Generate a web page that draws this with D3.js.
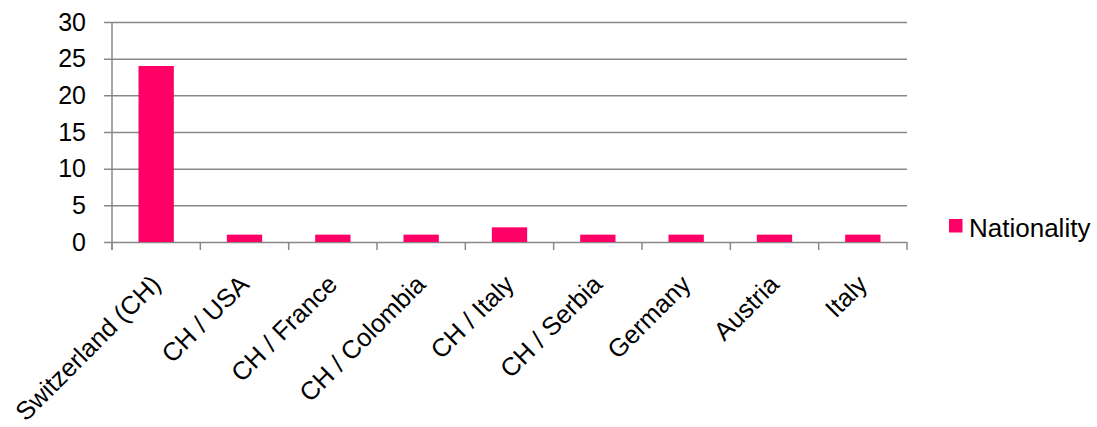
<!DOCTYPE html>
<html>
<head>
<meta charset="utf-8">
<script src="https://cdn.jsdelivr.net/npm/d3@7"></script>
<style>
  html, body { margin: 0; padding: 0; background: #fff; }
  svg { display: block; font-family: "Liberation Sans", Arial, sans-serif; }
</style>
</head>
<body>
<svg id="chart" width="1097" height="427"></svg>
<script>
// Nationality counts per category
const categories = ["Switzerland (CH)", "CH / USA", "CH / France", "CH / Colombia", "CH / Italy", "CH / Serbia", "Germany", "Austria", "Italy"];
const values = [24, 1, 1, 1, 2, 1, 1, 1, 1];
const yTicks = [0, 5, 10, 15, 20, 25, 30];
const seriesName = "Nationality";

const svg = d3.select("#chart");
const plotLeft = 112, plotRight = 907, plotTop = 22, plotBottom = 242;
const barColor = "#FF0066";
const gridColor = "#888888";

const x = d3.scaleBand().domain(categories).range([plotLeft, plotRight]).paddingInner(0.6).paddingOuter(0.3);
const xBand = d3.scaleBand().domain(categories).range([plotLeft, plotRight]);
const y = d3.scaleLinear().domain([0, 30]).range([plotBottom, plotTop]);

// horizontal gridlines with short outer ticks
svg.append("g").selectAll("line").data(yTicks).join("line")
  .attr("x1", plotLeft - 8).attr("x2", plotRight)
  .attr("y1", d => y(d) + 0.5).attr("y2", d => y(d) + 0.5)
  .attr("stroke", gridColor).attr("stroke-width", 1.5);

// y axis line
svg.append("line").attr("x1", plotLeft).attr("x2", plotLeft)
  .attr("y1", plotTop).attr("y2", plotBottom + 8)
  .attr("stroke", gridColor).attr("stroke-width", 1.5);

// category separator ticks
const tickX = categories.map(c => xBand(c)).concat([plotRight]);
svg.append("g").selectAll("line").data(tickX).join("line")
  .attr("x1", d => d).attr("x2", d => d)
  .attr("y1", plotBottom).attr("y2", plotBottom + 8)
  .attr("stroke", gridColor).attr("stroke-width", 1.5);

// y tick labels
svg.append("g").selectAll("text").data(yTicks).join("text")
  .attr("x", 86).attr("y", d => y(d))
  .attr("dy", "0.35em")
  .attr("text-anchor", "end")
  .attr("font-size", 25)
  .attr("fill", "#000")
  .text(d => d);

// bars
svg.append("g").selectAll("rect").data(values).join("rect")
  .attr("x", (d, i) => x(categories[i]))
  .attr("width", x.bandwidth())
  .attr("y", d => y(d))
  .attr("height", d => y(0) - y(d))
  .attr("fill", barColor);

// rotated category labels, top-right corner anchored under each category
svg.append("g").selectAll("text").data(categories).join("text")
  .attr("transform", d => `translate(${xBand(d) + xBand.bandwidth() / 2 - 7},${plotBottom + 31}) rotate(-45)`)
  .attr("text-anchor", "end")
  .attr("dy", "0.72em")
  .attr("font-size", 25.5)
  .attr("fill", "#000")
  .text(d => d);

// legend
const legend = svg.append("g").attr("transform", "translate(949,219)");
legend.append("rect").attr("width", 13.5).attr("height", 13.5).attr("fill", barColor);
legend.append("text").attr("x", 20).attr("y", 18)
  .attr("font-size", 26).attr("fill", "#000").text(seriesName);
</script>
</body>
</html>
